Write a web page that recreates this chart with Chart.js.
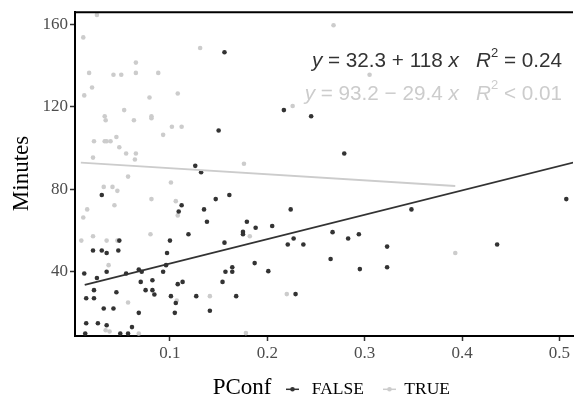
<!DOCTYPE html>
<html>
<head>
<meta charset="utf-8">
<script src="https://cdn.jsdelivr.net/npm/chart.js@4.4.1/dist/chart.umd.min.js"></script>
<style>
html, body { margin: 0; padding: 0; background: #fff; }
#wrap { width: 577px; height: 395px; }
</style>
</head>
<body>
<div id="wrap"><canvas id="chart" width="577" height="395"></canvas></div>
<script>
// PConf = FALSE points
const falseX = [0.030, 0.048, 0.021, 0.030, 0.035, 0.047, 0.012, 0.025, 0.035, 0.055,
                0.068, 0.071, 0.070, 0.082, 0.093, 0.096, 0.097, 0.100, 0.022, 0.014,
                0.022, 0.045, 0.075, 0.082, 0.084, 0.108, 0.113, 0.101, 0.106, 0.032,
                0.042, 0.068, 0.105, 0.127, 0.119, 0.112, 0.109, 0.014, 0.026, 0.035,
                0.061, 0.013, 0.049, 0.057, 0.126, 0.156, 0.217, 0.245, 0.150, 0.279,
                0.132, 0.161, 0.147, 0.135, 0.138, 0.179, 0.188, 0.175, 0.175, 0.205,
                0.224, 0.156, 0.221, 0.227, 0.237, 0.267, 0.283, 0.294, 0.265, 0.295,
                0.187, 0.201, 0.164, 0.164, 0.157, 0.154, 0.168, 0.141, 0.229, 0.348,
                0.323, 0.323, 0.436, 0.507];
const falseY = [77.3, 55.2, 50.4, 50.4, 49.2, 50.4, 39.3, 37.1, 40.1, 39.3,
                41.2, 40.1, 35.2, 36.0, 40.1, 43.3, 49.2, 55.2, 31.2, 27.3,
                27.3, 30.2, 31.2, 31.2, 29.1, 34.1, 35.2, 28.3, 25.0, 22.3,
                22.3, 20.2, 20.2, 28.3, 58.3, 72.3, 69.3, 15.2, 15.2, 14.2,
                13.3, 10.2, 10.2, 10.2, 91.4, 146.4, 118.4, 115.4, 108.5, 97.4,
                88.3, 77.3, 75.3, 70.3, 64.3, 64.3, 61.4, 59.4, 58.3, 62.3,
                70.3, 54.2, 53.3, 56.2, 53.3, 59.3, 56.2, 58.3, 46.3, 41.4,
                44.3, 40.4, 42.3, 40.1, 40.1, 35.2, 28.3, 21.2, 29.3, 70.3,
                52.3, 42.3, 53.3, 75.3];

// PConf = TRUE points
const trueX = [0.025, 0.011, 0.017, 0.020, 0.012, 0.065, 0.065, 0.042, 0.050, 0.088,
               0.079, 0.108, 0.053, 0.033, 0.034, 0.063, 0.081, 0.081, 0.102, 0.112,
               0.093, 0.045, 0.022, 0.033, 0.035, 0.039, 0.048, 0.055, 0.065, 0.021,
               0.064, 0.131, 0.009, 0.021, 0.035, 0.046, 0.011, 0.015, 0.032, 0.041,
               0.046, 0.043, 0.057, 0.081, 0.101, 0.106, 0.108, 0.080, 0.037, 0.057,
               0.107, 0.034, 0.038, 0.068, 0.268, 0.305, 0.226, 0.176, 0.182, 0.141,
               0.220, 0.178, 0.393];
const trueY = [164.5, 153.6, 136.4, 129.3, 125.5, 141.4, 136.4, 135.5, 135.5, 136.4,
               124.5, 126.4, 118.4, 115.4, 113.5, 113.5, 115.4, 114.5, 110.3, 110.3,
               106.4, 105.4, 103.3, 103.3, 103.3, 103.3, 100.4, 97.4, 97.4, 95.4,
               94.5, 148.5, 55.2, 57.3, 55.2, 55.2, 66.4, 70.3, 81.2, 81.2,
               79.3, 72.3, 86.2, 75.3, 83.3, 74.3, 67.4, 58.3, 43.3, 25.2,
               26.2, 11.8, 11.2, 10.2, 159.5, 135.5, 120.4, 92.4, 57.3, 28.3,
               29.3, 10.4, 49.2];

// fitted lines: intercept, slope, x range
const groups = ['FALSE', 'TRUE'];
const fitIntercept = [32.3, 93.2];
const fitSlope = [118, -29.4];
const fitFrom = [0.0125, 0.0085];
const fitTo = [0.52, 0.393];
const r2Label = ['= 0.24', '< 0.01'];

const xTicks = [0.1, 0.2, 0.3, 0.4, 0.5];
const yTicks = [40, 80, 120, 160];

const darkCol = '#333333';
const lightCol = '#cccccc';
const colors = [darkCol, lightCol];

function pts(xs, ys) {
    return xs.map((x, i) => ({ x: x, y: ys[i] }));
}

function fitLine(g) {
    return [fitFrom[g], fitTo[g]].map(x => ({ x: x, y: fitIntercept[g] + fitSlope[g] * x }));
}

function fmt(v) {
    return String(Math.abs(v));
}

// equation, legend, titles and top border
const extras = {
    id: 'extras',
    afterDraw(chart) {
        const ctx = chart.ctx;
        const area = chart.chartArea;
        ctx.save();

        ctx.strokeStyle = '#000';
        ctx.lineWidth = 2;
        ctx.beginPath();
        ctx.moveTo(area.left - 1, area.top);
        ctx.lineTo(area.right, area.top);
        ctx.stroke();

        // equations
        const baselines = [67.3, 100];
        groups.forEach((g, i) => {
            const sign = fitSlope[i] < 0 ? ' \u2212 ' : ' + ';
            const parts = [
                ['y', 'i'], [' = ' + fitIntercept[i] + sign + fmt(fitSlope[i]) + ' ', 'n'], ['x', 'i'],
                ['   ', 'n'], ['R', 'i'], ['2', 's'], [' ' + r2Label[i], 'n']
            ];
            const fontFor = s => s === 'i' ? 'italic 20.7px "Liberation Sans"' :
                s === 's' ? '13px "Liberation Sans"' : '20.7px "Liberation Sans"';
            const widths = parts.map(p => { ctx.font = fontFor(p[1]); return ctx.measureText(p[0]).width; });
            let x = 562 - widths.reduce((a, b) => a + b, 0);
            ctx.fillStyle = colors[i];
            ctx.textBaseline = 'alphabetic';
            ctx.textAlign = 'left';
            parts.forEach((p, k) => {
                ctx.font = fontFor(p[1]);
                ctx.fillText(p[0], x, p[1] === 's' ? baselines[i] - 10.6 : baselines[i]);
                x += widths[k];
            });
        });

        // y title
        ctx.fillStyle = '#000';
        ctx.font = '23px "Liberation Serif"';
        ctx.save();
        ctx.translate(28.3, 173.5);
        ctx.rotate(-Math.PI / 2);
        ctx.textAlign = 'center';
        ctx.fillText('Minutes', 0, 0);
        ctx.restore();

        // legend
        ctx.textAlign = 'left';
        ctx.fillText('PConf', 212.7, 394);
        const keyX = [286, 383];
        const labelX = [311.7, 404.3];
        groups.forEach((g, i) => {
            ctx.strokeStyle = colors[i];
            ctx.fillStyle = colors[i];
            ctx.lineWidth = 1.5;
            ctx.beginPath();
            ctx.moveTo(keyX[i], 389.3);
            ctx.lineTo(keyX[i] + 13, 389.3);
            ctx.stroke();
            ctx.beginPath();
            ctx.arc(keyX[i] + 6.5, 389.3, 2.3, 0, Math.PI * 2);
            ctx.fill();
            ctx.fillStyle = '#000';
            ctx.font = '17.5px "Liberation Serif"';
            ctx.fillText(g, labelX[i], 394);
        });
        ctx.restore();
    }
};

const axisCommon = {
    grid: { display: true, drawOnChartArea: false, drawTicks: true, tickLength: 5, tickWidth: 1.5, tickColor: '#333' },
    border: { display: true, color: '#000', width: 2 },
    ticks: { color: '#4d4d4d', padding: 2, font: { family: 'Liberation Serif', size: 17 } }
};

new Chart(document.getElementById('chart'), {
    type: 'scatter',
    data: {
        datasets: [
            { type: 'line', data: fitLine(0), borderColor: darkCol, borderWidth: 1.8, pointRadius: 0, fill: false },
            { type: 'line', data: fitLine(1), borderColor: lightCol, borderWidth: 1.8, pointRadius: 0, fill: false },
            { data: pts(falseX, falseY), backgroundColor: darkCol, borderWidth: 0, pointRadius: 2.3, clip: false },
            { data: pts(trueX, trueY), backgroundColor: lightCol, borderWidth: 0, pointRadius: 2.3, clip: false }
        ]
    },
    options: {
        responsive: false,
        animation: false,
        devicePixelRatio: 1,
        layout: { padding: { top: 12, right: 0, left: 0, bottom: 0 } },
        plugins: { legend: { display: false }, tooltip: { enabled: false } },
        scales: {
            x: Object.assign({}, axisCommon, {
                type: 'linear', min: 0.0025, max: 0.5139,
                afterBuildTicks: s => { s.ticks = xTicks.map(v => ({ value: v })); },
                afterFit: s => { s.height = 59; },
                ticks: Object.assign({}, axisCommon.ticks, { callback: v => String(v) })
            }),
            y: Object.assign({}, axisCommon, {
                type: 'linear', min: 9.0, max: 165.8,
                afterBuildTicks: s => { s.ticks = yTicks.map(v => ({ value: v })); },
                afterFit: s => { s.width = 75; }
            })
        }
    },
    plugins: [extras]
});
</script>
</body>
</html>
